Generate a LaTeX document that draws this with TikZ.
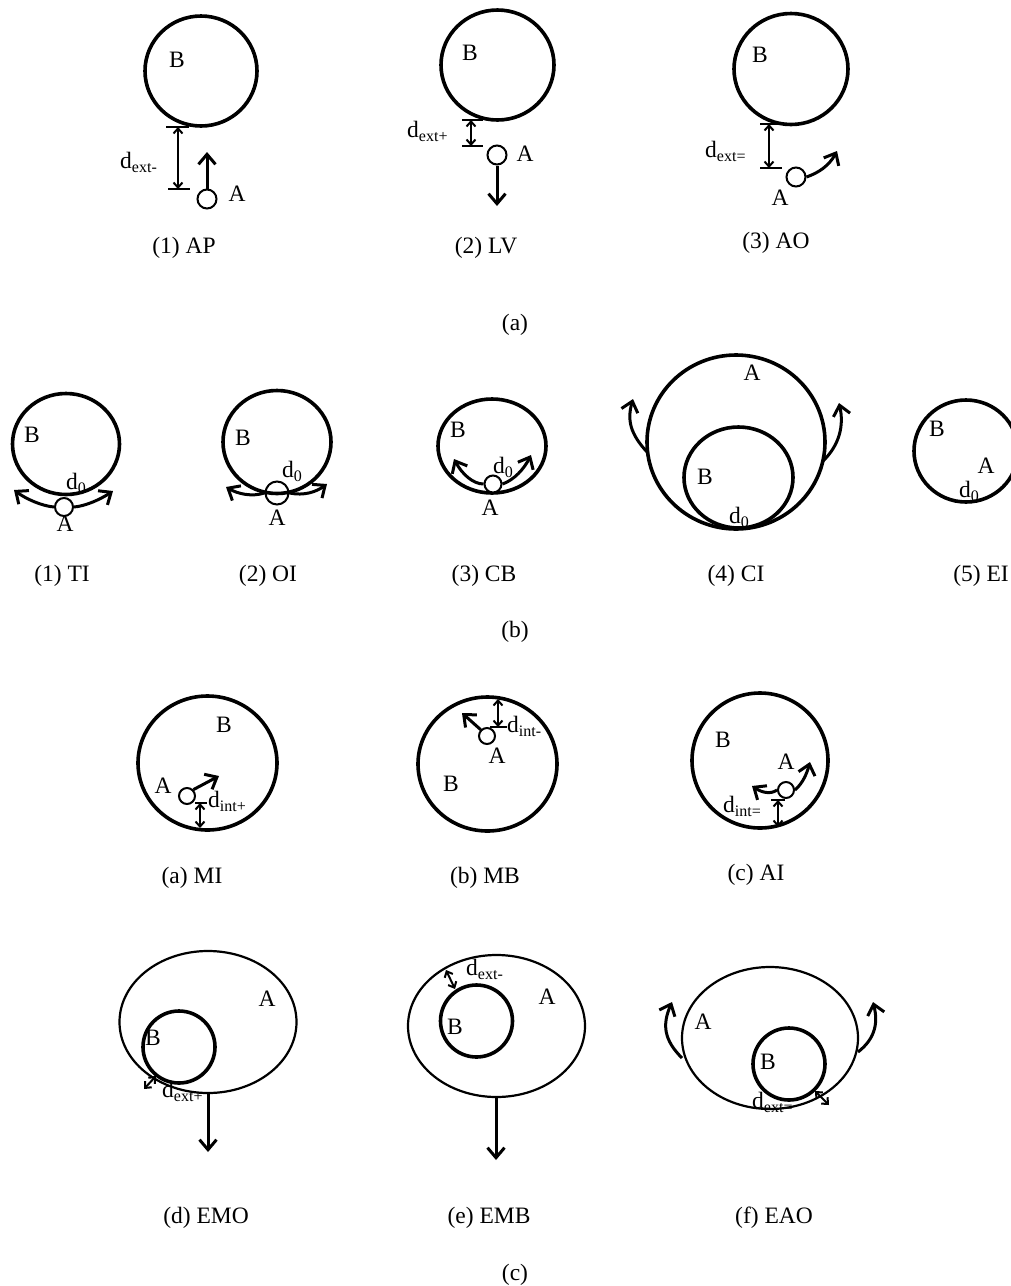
\documentclass[tikz,border=0pt]{standalone}
\usepackage{fontspec}
\setmainfont{Liberation Serif}
\usetikzlibrary{arrows.meta}
\newcommand{\dlab}[1]{d\raisebox{-4pt}{\fontsize{16}{16}\selectfont #1}}

\begin{document}
\begin{tikzpicture}[x=1pt, y=-1pt,
  bigc/.style={line width=3.6pt},
  thinc/.style={line width=2.2pt},
  dot/.style={circle, draw, fill=white, line width=2pt, minimum size=#1, inner sep=0pt},
  dot/.default=19pt,
  mv/.style={line width=3pt, -{Straight Barb[length=10pt,width=17pt]}},
  dimarr/.style={line width=2pt, {Straight Barb[length=5pt,width=9pt]}-{Straight Barb[length=5pt,width=9pt]}},
  tick/.style={line width=1.8pt},
  lbl/.style={font=\fontsize{23.5}{23.5}\selectfont, inner sep=0pt},
  dl/.style={lbl, anchor=base west}
]
\useasboundingbox[fill=white] (0,0) rectangle (1011,1286);

% (a) AP
\draw[bigc] (201,71) ellipse [x radius=56pt, y radius=55pt];
\node[lbl] (bAP) at (177,60) {B};
\node[dot] (aAP) at (207,199) {};
\node[lbl] (lAP) at (237,194) {A};
\coordinate (tAP) at (207,152);
\draw[mv] (aAP) -- (tAP);
\draw[tick] (166,127) -- (189,127) (168,189) -- (190,189);
\draw[dimarr] (178,127) -- (178,189);
\node[dl] (dAP) at (120,168) {\dlab{ext-}};
\node[lbl] (cAP) at (184,248) {(1) AP};

% (a) LV
\draw[bigc] (497.5,65) ellipse [x radius=56.5pt, y radius=55pt];
\node[lbl] (bLV) at (470,53) {B};
\node[dot] (aLV) at (497,155) {};
\node[lbl] (lLV) at (525,154) {A};
\coordinate (tLV) at (497,206);
\draw[mv] (aLV) -- (tLV);
\draw[tick] (462,120) -- (483,120) (462,146) -- (483,146);
\draw[dimarr] (471,120) -- (471,146);
\node[dl] (dLV) at (407,137) {\dlab{ext+}};
\node[lbl] (cLV) at (486,248) {(2) LV};

% (a) AO
\draw[bigc] (791,69) ellipse [x radius=57pt, y radius=55.5pt];
\node[lbl] (bAO) at (760,55) {B};
\node[dot] (aAO) at (796,177) {};
\node[lbl] (lAO) at (780,198) {A};
\coordinate (tAO) at (837,151);
\draw[mv] (aAO.east) .. controls (818,173) and (829,166) .. (tAO);
\draw[tick] (760,124) -- (782,124) (760,168) -- (782,168);
\draw[dimarr] (769,124) -- (769,168);
\node[dl] (dAO) at (705,157) {\dlab{ext=}};
\node[lbl] (cAO) at (776,243) {(3) AO};

\node[lbl] (capa) at (515,325) {(a)};

% (b) TI
\draw[bigc] (66,444) ellipse [x radius=53.5pt, y radius=50.5pt];
\node[lbl] (bTI) at (32,435) {B};
\node[dl] (dTI) at (66,489) {\dlab{0}};
\node[dot=18pt] (aTI) at (64,507) {};
\node[lbl] (lTI) at (65,524) {A};
\coordinate (tTIl) at (14,490);
\coordinate (tTIr) at (113,491);
\draw[mv] (aTI.west) .. controls (42,506) and (26,499) .. (tTIl);
\draw[mv] (aTI.east) .. controls (86,506) and (101,499) .. (tTIr);
\node[lbl] (cTI) at (62,576) {(1) TI};

% (b) OI
\draw[bigc] (277,442) ellipse [x radius=54pt, y radius=51.5pt];
\node[lbl] (bOI) at (243,438) {B};
\node[dl] (dOI) at (282,477) {\dlab{0}};
\node[dot=23pt, fill=none] (aOI) at (277,493) {};
\node[lbl] (lOI) at (277,518) {A};
\coordinate (tOIl) at (226,487);
\coordinate (tOIr) at (327,484);
\draw[mv] (aOI.west) .. controls (252,497) and (238,494) .. (tOIl);
\draw[mv] (aOI.east) .. controls (304,496) and (316,492) .. (tOIr);
\node[lbl] (cOI) at (268,576) {(2) OI};

% (b) CB
\draw[bigc] (492,446) ellipse [x radius=54pt, y radius=47pt];
\node[lbl] (bCB) at (458,430) {B};
\node[dl] (dCB) at (493,473) {\dlab{0}};
\node[dot=17pt] (aCB) at (493,484) {};
\node[lbl] (lCB) at (490,508) {A};
\coordinate (tCBl) at (454,459);
\coordinate (tCBr) at (531,455);
\draw[mv] (aCB.west) .. controls (473,484) and (462,474) .. (tCBl);
\draw[mv] (aCB.east) .. controls (514,480) and (524,469) .. (tCBr);
\node[lbl] (cCB) at (484,576) {(3) CB};

% (b) CI
\draw[bigc] (736,442) ellipse [x radius=89pt, y radius=87pt];
\draw[bigc] (738.5,477.5) ellipse [x radius=54.5pt, y radius=50.5pt];
\node[lbl] (aCI) at (752,373) {A};
\node[lbl] (bCI) at (705,477) {B};
\node[dl] (dCI) at (729,523) {\dlab{0}};
\coordinate (sCIl) at (648,453);
\coordinate (tCIl) at (633,399);
\coordinate (sCIr) at (822,462);
\coordinate (tCIr) at (839,403);
\draw[mv] (sCIl) .. controls (630,434) and (627,420) .. (tCIl);
\draw[mv] (sCIr) .. controls (840,445) and (844,425) .. (tCIr);
\node[lbl] (cCI) at (736,576) {(4) CI};

% (b) EI
\draw[bigc] (966,451) ellipse [x radius=52pt, y radius=51pt];
\node[lbl] (bEI) at (937,429) {B};
\node[lbl] (aEI) at (986,466) {A};
\node[dl] (dEI) at (959,497) {\dlab{0}};
\node[lbl] (cEI) at (981,576) {(5) EI};

\node[lbl] (capb) at (515,632) {(b)};

% (c) MI
\draw[bigc] (207.5,763) ellipse [x radius=69.5pt, y radius=67pt];
\node[lbl] (bMI) at (224,725) {B};
\node[lbl] (lMI) at (163,786) {A};
\node[dot=16pt] (aMI) at (187,796) {};
\coordinate (tMI) at (219,776);
\draw[mv] (aMI.north east) -- (tMI);
\draw[tick] (195,803) -- (207,803);
\draw[dimarr] (200,803) -- (200,828);
\node[dl] (dMI) at (208,807) {\dlab{int+}};
\node[lbl] (cMI) at (192,878) {(a) MI};

% (c) MB
\draw[bigc] (487.5,764) ellipse [x radius=69.5pt, y radius=67pt];
\node[dot=16pt] (aMB) at (487,736) {};
\node[lbl] (lMB) at (497,756) {A};
\node[lbl] (bMB) at (451,784) {B};
\coordinate (tMB) at (462,713);
\draw[mv] (aMB.north west) -- (tMB);
\draw[dimarr] (498,699) -- (498,727);
\draw[tick] (490,727) -- (507,727);
\node[dl] (dMB) at (507,732) {\dlab{int-}};
\node[lbl] (cMB) at (485,878) {(b) MB};

% (c) AI
\draw[bigc] (760,760.5) ellipse [x radius=68pt, y radius=67.5pt];
\node[lbl] (bAI) at (723,740) {B};
\node[lbl] (lAI) at (786,762) {A};
\node[dot=16pt] (aAI) at (786,790) {};
\coordinate (tAIl) at (752,786);
\coordinate (tAIr) at (810,762);
\draw[mv] (aAI.west) .. controls (770,795) and (761,792) .. (tAIl);
\draw[mv] (aAI.east) .. controls (803,783) and (807,773) .. (tAIr);
\draw[tick] (771,800) -- (785,800);
\draw[dimarr] (778,800) -- (778,827);
\node[dl] (dAI) at (723,812) {\dlab{int=}};
\node[lbl] (cAI) at (756,875) {(c) AI};

% (d) EMO
\draw[thinc] (208,1022) ellipse [x radius=88.5pt, y radius=71pt];
\draw[bigc] (179,1047) circle [radius=36pt];
\node[lbl] (aEMO) at (267,999) {A};
\node[lbl] (bEMO) at (153,1038) {B};
\draw[dimarr] (144,1089) -- (156,1076);
\node[dl] (dEMO) at (162,1097) {\dlab{ext+}};
\coordinate (sEMO) at (208,1093);
\coordinate (tEMO) at (208,1152);
\draw[mv] (sEMO) -- (tEMO);
\node[lbl] (cEMO) at (206,1218) {(d) EMO};

% (e) EMB
\draw[thinc] (496.5,1026) ellipse [x radius=88.5pt, y radius=71pt];
\draw[bigc] (476.5,1021) circle [radius=36pt];
\node[lbl] (aEMB) at (547,997) {A};
\node[lbl] (bEMB) at (455,1027) {B};
\draw[dimarr] (446,970) -- (455,989);
\node[dl] (dEMB) at (466,975) {\dlab{ext-}};
\coordinate (sEMB) at (496,1097);
\coordinate (tEMB) at (496,1160);
\draw[mv] (sEMB) -- (tEMB);
\node[lbl] (cEMB) at (489,1218) {(e) EMB};

% (f) EAO
\draw[thinc] (770,1038) ellipse [x radius=88pt, y radius=71pt];
\draw[bigc] (789,1064) circle [radius=36pt];
\node[lbl] (aEAO) at (703,1022) {A};
\node[lbl] (bEAO) at (768,1062) {B};
\draw[dimarr] (815,1091) -- (829,1105);
\node[dl] (dEAO) at (752,1108) {\dlab{ext=}};
\coordinate (sEAOl) at (682,1058);
\coordinate (tEAOl) at (672,1002);
\coordinate (sEAOr) at (858,1052);
\coordinate (tEAOr) at (873,1002);
\draw[mv] (sEAOl) .. controls (664,1040) and (662,1025) .. (tEAOl);
\draw[mv] (sEAOr) .. controls (876,1038) and (878,1022) .. (tEAOr);
\node[lbl] (cEAO) at (774,1218) {(f) EAO};

\node[lbl] (capc) at (515,1275) {(c)};
\end{tikzpicture}
\end{document}
